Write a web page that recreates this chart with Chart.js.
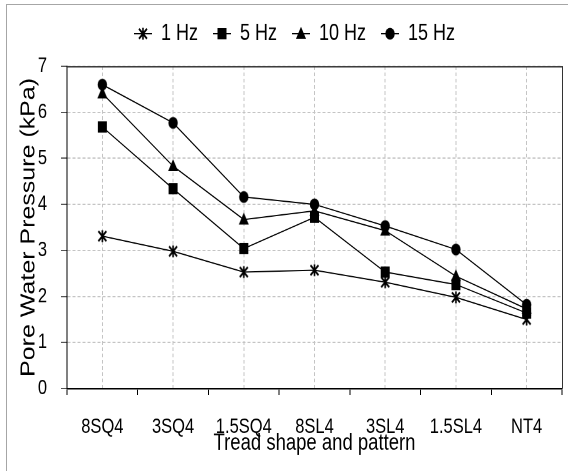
<!DOCTYPE html>
<html>
<head>
<meta charset="utf-8">
<script src="https://cdn.jsdelivr.net/npm/chart.js@4.4.0/dist/chart.umd.min.js"></script>
<style>
  html, body { margin: 0; padding: 0; background: #fff; }
  #wrap { position: relative; width: 568px; height: 471px; overflow: hidden; }
  #frame { position: absolute; left: 6px; top: 4px; width: 620px; height: 520px; border: 1px solid #a6a6a6; }
  #chart { position: absolute; left: 0; top: 0; }
</style>
</head>
<body>
<div id="wrap">
  <div id="frame"></div>
  <canvas id="chart" width="568" height="377"></canvas>
</div>
<script>
// categories and series
const treads = ['8SQ4', '3SQ4', '1.5SQ4', '8SL4', '3SL4', '1.5SL4', 'NT4'];
const hz1  = [3.31, 2.98, 2.53, 2.57, 2.31, 1.98, 1.50];
const hz5  = [5.68, 4.34, 3.04, 3.72, 2.53, 2.26, 1.64];
const hz10 = [6.41, 4.83, 3.67, 3.86, 3.43, 2.44, 1.73];
const hz15 = [6.60, 5.77, 4.16, 4.00, 3.53, 3.02, 1.82];
const seriesNames = ['1 Hz', '5 Hz', '10 Hz', '15 Hz'];
const markers = ['star', 'square', 'triangle', 'circle'];
const yMin = 0, yMax = 7, yStep = 1;

// the reference is a vertically stretched picture, so the chart is drawn
// at 568x377 and shown at 568x471
const SHOWN_HEIGHT = 471;
const font = '"Liberation Sans", Arial, sans-serif';

function drawMarker(g, kind, cx, cy) {
  g.fillStyle = '#000';
  g.strokeStyle = '#000';
  g.beginPath();
  if (kind === 'circle') {
    g.arc(cx, cy, 4.7, 0, Math.PI * 2);
    g.fill();
  } else if (kind === 'square') {
    g.fillRect(cx - 4.5, cy - 4.5, 9, 9);
  } else if (kind === 'triangle') {
    g.moveTo(cx, cy - 5.6);
    g.lineTo(cx + 5, cy + 4);
    g.lineTo(cx - 5, cy + 4);
    g.closePath();
    g.fill();
  } else {
    g.lineWidth = 1.6;
    g.moveTo(cx - 4, cy - 4); g.lineTo(cx + 4, cy + 4);
    g.moveTo(cx + 4, cy - 4); g.lineTo(cx - 4, cy + 4);
    g.moveTo(cx, cy - 4.8); g.lineTo(cx, cy + 4.8);
    g.stroke();
  }
}

// images drawn at 2x, shown at 1x
function makeImage(w, h, paint) {
  const c = document.createElement('canvas');
  c.width = w * 2; c.height = h * 2;
  const g = c.getContext('2d');
  g.scale(2, 2);
  paint(g);
  const img = new Image(w, h);
  img.src = c.toDataURL();
  return img;
}

const pointIcons = markers.map(k => makeImage(14, 14, g => drawMarker(g, k, 7, 7)));
const legendIcons = markers.map(k => makeImage(18, 14, g => {
  g.strokeStyle = '#000';
  g.lineWidth = 1;
  g.beginPath();
  g.moveTo(0, 7); g.lineTo(18, 7);
  g.stroke();
  drawMarker(g, k, 9, 7);
}));

const values = [hz1, hz5, hz10, hz15];

const legendFit = {
  id: 'legendFit',
  beforeInit(chart) {
    const fit = chart.legend.fit;
    chart.legend.fit = function () {
      fit.call(this);
      this.height = 50;
    };
  },
  afterLayout(chart) {
    chart.legend.left += 26;
  }
};

// top and right edges of the plot box
const plotFrame = {
  id: 'plotFrame',
  beforeDatasetsDraw(chart) {
    const { ctx, chartArea: a } = chart;
    ctx.save();
    ctx.strokeStyle = '#333';
    ctx.lineWidth = 1;
    ctx.beginPath();
    ctx.moveTo(a.left, a.top + 0.5);
    ctx.lineTo(a.right + 0.5, a.top + 0.5);
    ctx.lineTo(a.right + 0.5, a.bottom);
    ctx.stroke();
    ctx.restore();
  }
};

function build() {
  const datasets = seriesNames.map((name, i) => ({
    label: name,
    data: values[i],
    borderColor: '#000',
    backgroundColor: '#000',
    borderWidth: 1,
    pointStyle: pointIcons[i],
    pointRadius: 5,
    tension: 0
  }));

  const chart = new Chart(document.getElementById('chart'), {
    type: 'line',
    data: { labels: treads, datasets: datasets },
    plugins: [legendFit, plotFrame],
    options: {
      responsive: false,
      animation: false,
      devicePixelRatio: 2,
      layout: { padding: { top: 3, right: 5, left: 0, bottom: 0 } },
      plugins: {
        tooltip: { enabled: false },
        legend: {
          position: 'top',
          labels: {
            usePointStyle: true,
            pointStyleWidth: 18,
            padding: 15,
            color: '#000',
            font: { family: font, size: 18 },
            generateLabels: ch => ch.data.datasets.map((ds, i) => ({
              text: ds.label,
              pointStyle: legendIcons[i],
              fillStyle: '#000',
              strokeStyle: '#000',
              lineWidth: 0,
              hidden: false,
              datasetIndex: i,
              fontColor: '#000'
            }))
          }
        }
      },
      scales: {
        y: {
          min: yMin,
          max: yMax,
          afterFit(scale) { scale.width = 67; },
          ticks: { stepSize: yStep, color: '#000', padding: 14, font: { family: font, size: 16.5 } },
          grid: { color: '#c4c4c4', tickColor: '#555', tickLength: 6 },
          border: { display: true, color: '#000', width: 1, dash: [3, 2] },
          title: {
            display: true,
            text: 'Pore Water Pressure (kPa)',
            color: '#000',
            font: { family: font, size: 20 },
            padding: { top: 17, bottom: 0 }
          }
        },
        x2: {
          type: 'category',
          labels: treads,
          position: 'bottom',
          weight: 0,
          offset: true,
          afterFit(scale) { scale.height = 5; },
          ticks: { display: false },
          grid: { offset: true, drawOnChartArea: false, tickLength: 5, tickColor: '#000' },
          border: { display: true, color: '#000', width: 1.2 }
        },
        x: {
          position: 'bottom',
          weight: 1,
          offset: true,
          afterFit(scale) { scale.height = 61; },
          ticks: { color: '#000', padding: 16, font: { family: font, size: 16.5 }, maxRotation: 0, autoSkip: false },
          grid: { offset: false, drawTicks: false, color: '#c4c4c4' },
          border: { display: false, dash: [3, 2] },
          title: {
            display: true,
            text: 'Tread shape and pattern',
            color: '#000',
            font: { family: font, size: 18.5 },
            padding: { top: 0, bottom: 11 }
          }
        }
      }
    }
  });
  chart.canvas.style.height = SHOWN_HEIGHT + 'px';
}

Promise.all(pointIcons.concat(legendIcons).map(img => img.decode())).then(build, build);
</script>
</body>
</html>
